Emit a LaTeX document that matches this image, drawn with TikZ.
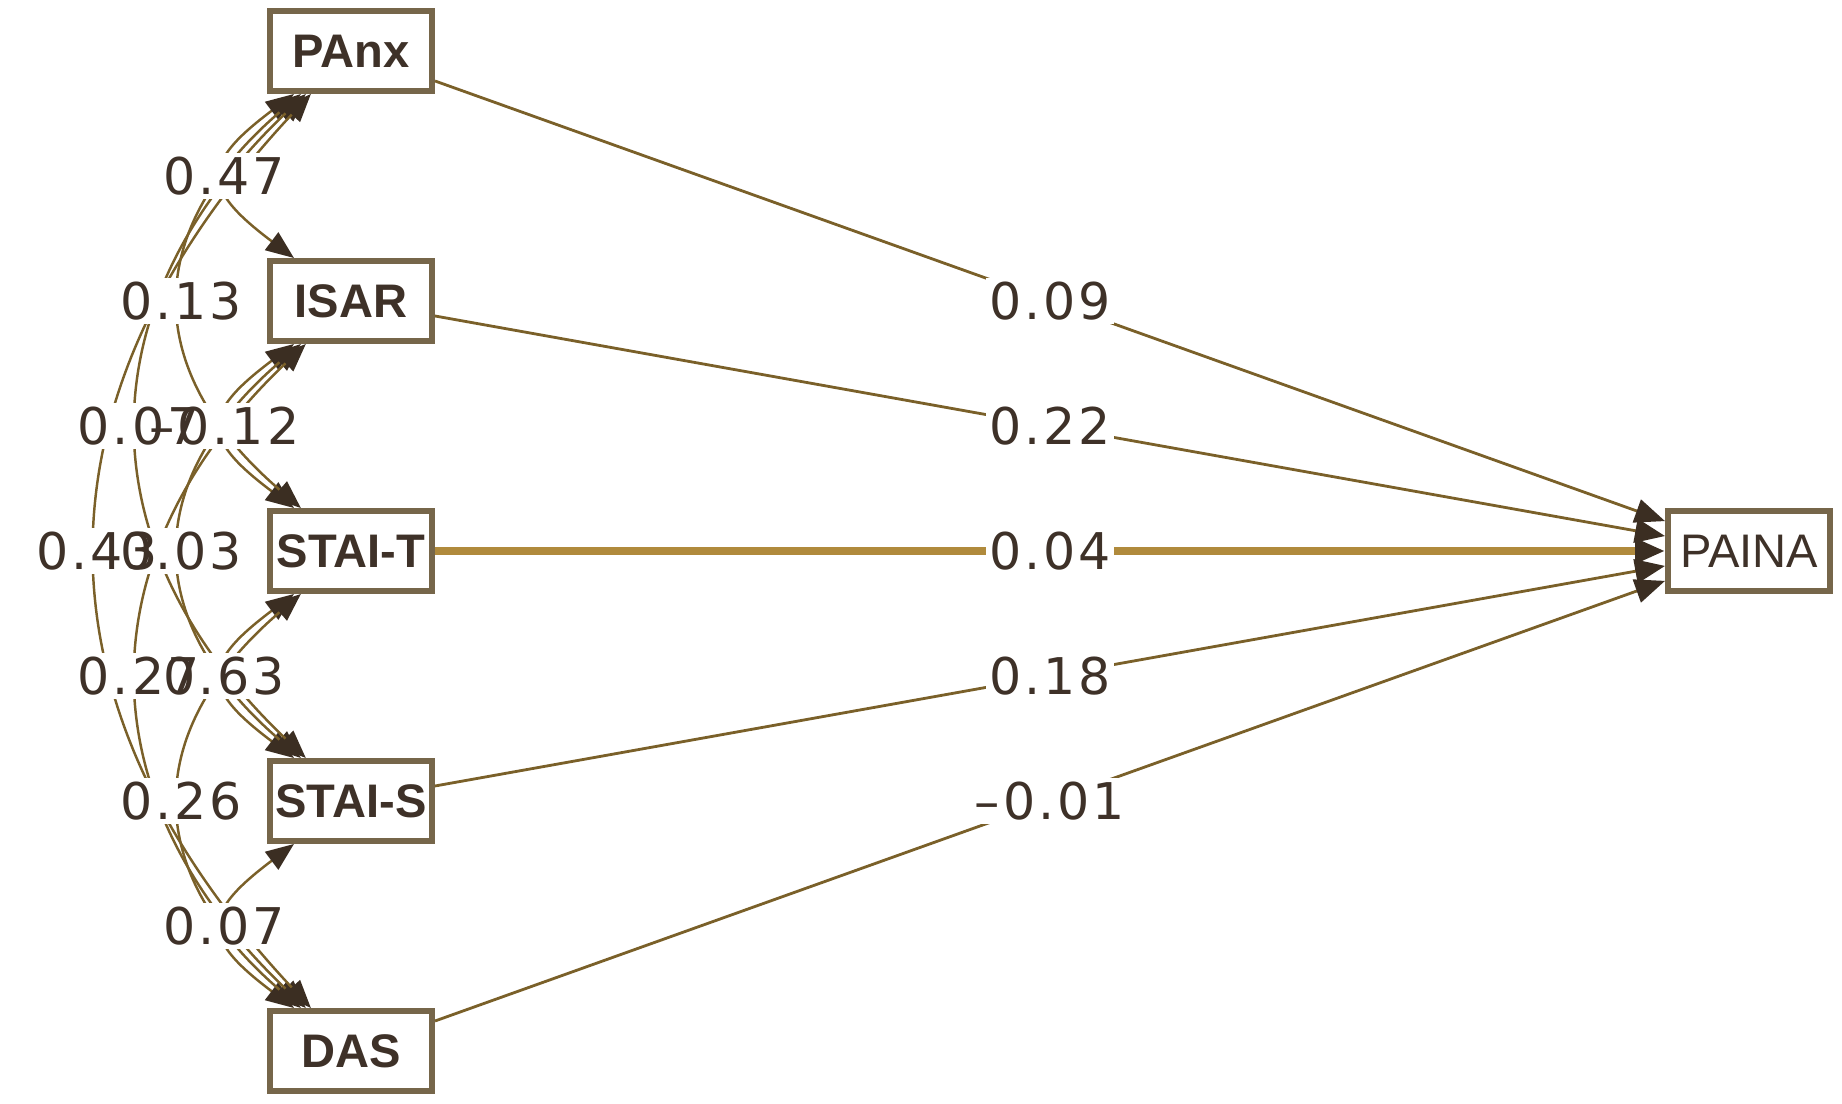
\documentclass[tikz,border=0pt]{standalone}
\usepackage{fontspec}
\setmainfont{Liberation Sans}
\newfontfamily\lblfont[LetterSpace=6]{DejaVu Sans}
\usetikzlibrary{arrows.meta}

\definecolor{boxcol}{HTML}{76664A}
\definecolor{txtcol}{HTML}{3E3128}
\definecolor{edgecol}{HTML}{7A6029}
\definecolor{goldcol}{HTML}{B08A3C}
\definecolor{tipcol}{HTML}{3B2E22}

\tikzset{
	var/.style={draw=boxcol, line width=1.7pt, fill=white, minimum width=1.62cm, minimum height=0.8cm,
		inner sep=0pt, text=txtcol, font=\fontsize{13.4}{15}\selectfont\bfseries},
	reg/.style={draw=edgecol, line width=0.8pt, -{Triangle[length=3mm, width=2.4mm, color=tipcol]}},
	cov/.style={draw=edgecol, line width=0.7pt,
		{Triangle[length=2.8mm, width=2.2mm, color=tipcol]}-{Triangle[length=2.8mm, width=2.2mm, color=tipcol]}},
	lbl/.style={fill=white, inner sep=1pt, text=txtcol, font=\lblfont\fontsize{14.4}{16}\selectfont},
	lblbg/.style={lbl, text=white},
	lbltxt/.style={lbl, fill=none}
}

\begin{document}
\begin{tikzpicture}
			\useasboundingbox (0,0) rectangle (18.42,-11.04);
			\def\xl{3.51};
			\def\xr{17.49};
			
			% variables
			\node [var] (PAnx) at (\xl,-0.51) {PAnx};
			\node [var] (ISAR) at (\xl,-3.01) {ISAR};
			\node [var] (STAIT) at (\xl,-5.51) {STAI-T};
			\node [var] (STAIS) at (\xl,-8.01) {STAI-S};
			\node [var] (DAS) at (\xl,-10.51) {DAS};
			\node [var, font=\fontsize{13.4}{15}\selectfont] (PAINA) at (\xr,-5.51) {PAINA};
			
			% regressions on PAINA
			\draw [reg] (PAnx) -- (PAINA) node [lbl, midway] (w1) {0.09};
			\draw [reg] (ISAR) -- (PAINA) node [lbl, midway] (w2) {0.22};
			\draw [reg, draw=goldcol, line width=2pt] (STAIT) -- (PAINA) node [lbl, midway] (w3) {0.04};
			\draw [reg] (STAIS) -- (PAINA) node [lbl, midway] (w4) {0.18};
			\draw [reg] (DAS) -- (PAINA) node [lbl, midway] (w5) {–0.01};
			
			% covariances
			\draw [cov] (PAnx) .. controls +(-1.5,-1.13) and +(-1.5,1.13) .. (ISAR) coordinate [pos=0.5] (c12);
			\draw [cov] (ISAR) .. controls +(-1.5,-1.13) and +(-1.5,1.13) .. (STAIT) coordinate [pos=0.5] (c23);
			\draw [cov] (STAIT) .. controls +(-1.5,-1.13) and +(-1.5,1.13) .. (STAIS) coordinate [pos=0.5] (c34);
			\draw [cov] (STAIS) .. controls +(-1.5,-1.13) and +(-1.5,1.13) .. (DAS) coordinate [pos=0.5] (c45);
			\draw [cov] (PAnx) .. controls +(-2.1,-1.8) and +(-2.1,1.8) .. (STAIT) coordinate [pos=0.5] (c13);
			\draw [cov] (ISAR) .. controls +(-2.1,-1.8) and +(-2.1,1.8) .. (STAIS) coordinate [pos=0.5] (c24);
			\draw [cov] (STAIT) .. controls +(-2.1,-1.8) and +(-2.1,1.8) .. (DAS) coordinate [pos=0.5] (c35);
			\draw [cov] (PAnx) .. controls +(-2.68,-2.55) and +(-2.68,2.55) .. (STAIS) coordinate [pos=0.5] (c14);
			\draw [cov] (ISAR) .. controls +(-2.68,-2.55) and +(-2.68,2.55) .. (DAS) coordinate [pos=0.5] (c25);
			\draw [cov] (PAnx) .. controls +(-3.25,-3.48) and +(-3.25,3.48) .. (DAS) coordinate [pos=0.5] (c15);
			
			% label boxes first, texts on top
			\node [lblbg] (b12) at (c12) {0.47};
			\node [lblbg] (b23) at (c23) {–0.12};
			\node [lblbg] (b34) at (c34) {0.63};
			\node [lblbg] (b45) at (c45) {0.07};
			\node [lblbg] (b13) at (c13) {0.13};
			\node [lblbg] (b24) at (c24) {0.03};
			\node [lblbg] (b35) at (c35) {0.26};
			\node [lblbg] (b14) at (c14) {0.07};
			\node [lblbg] (b25) at (c25) {0.27};
			\node [lblbg] (b15) at (c15) {0.43};
			
			\node [lbltxt] (t12) at (c12) {0.47};
			\node [lbltxt] (t23) at (c23) {–0.12};
			\node [lbltxt] (t34) at (c34) {0.63};
			\node [lbltxt] (t45) at (c45) {0.07};
			\node [lbltxt] (t13) at (c13) {0.13};
			\node [lbltxt] (t24) at (c24) {0.03};
			\node [lbltxt] (t35) at (c35) {0.26};
			\node [lbltxt] (t14) at (c14) {0.07};
			\node [lbltxt] (t25) at (c25) {0.27};
			\node [lbltxt] (t15) at (c15) {0.43};
		\end{tikzpicture}
\end{document}
